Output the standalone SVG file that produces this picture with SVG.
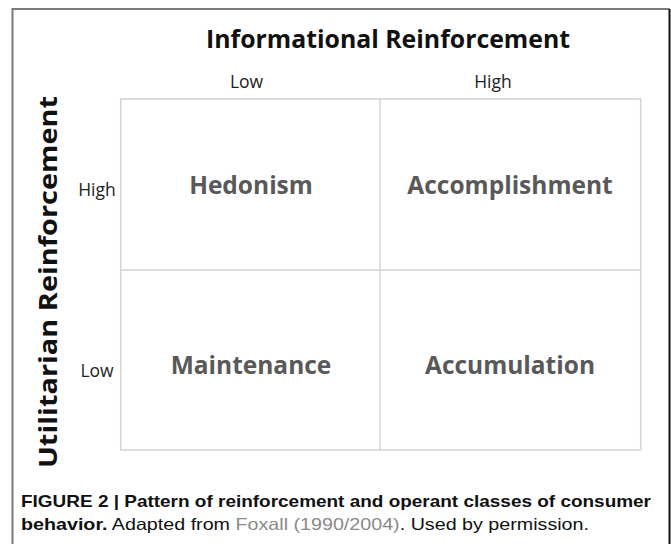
<svg xmlns="http://www.w3.org/2000/svg" width="671" height="544" viewBox="0 0 671 544">
<style>
.axis{font-family:"Open Sans","Noto Sans",sans-serif;font-weight:700;font-size:25px;fill:#111}
.lvl{font-family:"Open Sans","Noto Sans",sans-serif;font-size:17.5px;fill:#222}
.cell{font-family:"Open Sans","Noto Sans",sans-serif;font-weight:700;font-size:24.5px;fill:#595959}
.cap{font-family:"Liberation Sans",Arial,sans-serif;font-size:16.5px;fill:#111}
.grid{stroke:#d4d4d4;stroke-width:1.5;fill:none}
</style>
<rect width="671" height="544" fill="#fff"/>
<g id="frame">
<path d="M12.5,544 V9 H669.5" fill="none" stroke="#7a7a7a" stroke-width="2"/>
<line x1="669.5" y1="9" x2="669.5" y2="544" stroke="#111" stroke-width="2"/>
</g>
<g id="connectors">
<rect class="grid" x="120.7" y="99" width="520" height="351"/>
<line class="grid" x1="380" y1="99" x2="380" y2="450"/>
<line class="grid" x1="120.7" y1="270" x2="640.7" y2="270"/>
</g>
<g id="title-x"><text class="axis" x="388" y="48" text-anchor="middle" textLength="364" lengthAdjust="spacingAndGlyphs">Informational Reinforcement</text></g>
<g id="title-y"><text class="axis" transform="translate(57,282) rotate(-90)" x="0" y="0" text-anchor="middle" textLength="372" lengthAdjust="spacingAndGlyphs">Utilitarian Reinforcement</text></g>
<g id="x-low"><text class="lvl" x="246.5" y="88" text-anchor="middle">Low</text></g>
<g id="x-high"><text class="lvl" x="493" y="88" text-anchor="middle">High</text></g>
<g id="y-high"><text class="lvl" x="97" y="196" text-anchor="middle">High</text></g>
<g id="y-low"><text class="lvl" x="97" y="377" text-anchor="middle">Low</text></g>
<g id="hedonism"><text class="cell" x="251" y="194" text-anchor="middle">Hedonism</text></g>
<g id="accomplishment"><text class="cell" x="510" y="194" text-anchor="middle">Accomplishment</text></g>
<g id="maintenance"><text class="cell" x="251" y="374" text-anchor="middle">Maintenance</text></g>
<g id="accumulation"><text class="cell" x="510" y="374" text-anchor="middle">Accumulation</text></g>
<g id="caption">
<text class="cap" x="21" y="507" font-weight="700" textLength="630" lengthAdjust="spacingAndGlyphs">FIGURE 2 | Pattern of reinforcement and operant classes of consumer</text>
<text class="cap" x="21" y="530" textLength="568" lengthAdjust="spacingAndGlyphs"><tspan font-weight="700">behavior.</tspan> Adapted from <tspan fill="#8a8a8a">Foxall (1990/2004)</tspan>. Used by permission.</text>
</g>
</svg>
